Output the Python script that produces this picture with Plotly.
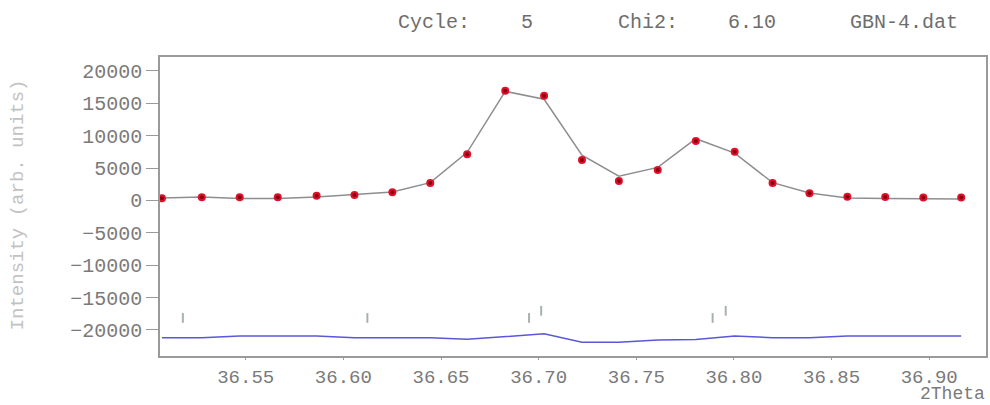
import plotly.graph_objects as go

# 2-theta positions of the measured points (deg)
two_theta = [36.5071, 36.5275, 36.5469, 36.5664, 36.5863, 36.6057, 36.6251,
             36.6445, 36.6634, 36.6829, 36.7028, 36.7222, 36.7411, 36.7610,
             36.7805, 36.8004, 36.8198, 36.8387, 36.8581, 36.8775, 36.8970,
             36.9164]
# observed intensities
y_obs = [340, 490, 490, 490, 740, 850, 1270, 2700, 7130, 16960, 16190, 6250,
         3010, 4710, 9190, 7540, 2700, 1110, 590, 540, 460, 460]
# difference curve (obs - calc), drawn shifted down by diff_offset
diff_offset = -21150
y_diff = [-21200, -21200, -20950, -20950, -20950, -21200, -21200, -21200,
          -21450, -21050, -20600, -21900, -21900, -21550, -21500, -20930,
          -21200, -21200, -20930, -20930, -20930, -20930]
# calculated profile follows from obs and difference
y_calc = [o - (d - diff_offset) for o, d in zip(y_obs, y_diff)]

# Bragg reflection markers: two rows of positions
bragg_row1 = [36.5178, 36.6123, 36.6951, 36.7891]
bragg_row1_span = [-17400, -18900]
bragg_row2 = [36.7013, 36.7958]
bragg_row2_span = [-16300, -17800]

y_ticks = [-20000, -15000, -10000, -5000, 0, 5000, 10000, 15000, 20000]
x_ticks = [36.55, 36.60, 36.65, 36.70, 36.75, 36.80, 36.85, 36.90]


def tick_segments(positions, span):
    xs, ys = [], []
    for p in positions:
        xs += [p, p, None]
        ys += [span[0], span[1], None]
    return xs, ys


fig = go.Figure()

# calculated profile
fig.add_trace(go.Scatter(x=two_theta, y=y_calc, mode="lines",
                         line=dict(color="#8e8e8e", width=1.5),
                         hoverinfo="skip"))
# observed points: red disc with a darker core
fig.add_trace(go.Scatter(x=two_theta, y=y_obs, mode="markers",
                         marker=dict(color="#e0102a", size=8, line=dict(width=0))))
fig.add_trace(go.Scatter(x=two_theta, y=y_obs, mode="markers",
                         marker=dict(color="#8a0010", size=4, line=dict(width=0)),
                         hoverinfo="skip"))
# difference curve
fig.add_trace(go.Scatter(x=two_theta, y=y_diff, mode="lines",
                         line=dict(color="#5a58d8", width=1.5)))
# Bragg positions
for pos, span in ((bragg_row1, bragg_row1_span), (bragg_row2, bragg_row2_span)):
    bx, by = tick_segments(pos, span)
    fig.add_trace(go.Scatter(x=bx, y=by, mode="lines",
                             line=dict(color="#a7b2ac", width=2),
                             hoverinfo="skip"))

mono = "Liberation Mono, Courier New, monospace"
axis_col = "#9a9a9a"

fig.update_layout(
    width=990, height=405,
    margin=dict(l=160, r=2, t=57, b=49),
    paper_bgcolor="white", plot_bgcolor="white",
    showlegend=False,
    font=dict(family=mono, color="#7a7a7a", size=20),
)
fig.update_xaxes(
    range=[36.5061, 36.9291], tickvals=x_ticks,
    ticktext=[f"{v:.2f}" for v in x_ticks],
    showgrid=False, zeroline=False,
    showline=True, linecolor=axis_col, linewidth=1.5, mirror=True,
    ticks="outside", ticklen=2, tickcolor=axis_col,
    tickfont=dict(family=mono, size=19, color="#7a7a7a"),
)
fig.update_yaxes(
    range=[-24030, 22160], tickvals=y_ticks, tickformat="d",
    showgrid=False, zeroline=False,
    showline=True, linecolor=axis_col, linewidth=1.5, mirror=True,
    ticks="outside", ticklen=12, tickcolor=axis_col,
    tickfont=dict(family=mono, size=20, color="#7a7a7a"),
)

# header line
header = [("Cycle:", 397), ("5", 520), ("Chi2:", 617), ("6.10", 727),
          ("GBN-4.dat", 850)]
for text, px in header:
    fig.add_annotation(text=text, xref="paper", yref="paper",
                       x=(px - 160) / 828, y=(356 - 22) / 299,
                       xanchor="left", yanchor="middle", showarrow=False,
                       font=dict(family=mono, size=20, color="#6e6e6e"))

# axis titles
fig.add_annotation(text="Intensity (arb. units)", xref="paper", yref="paper",
                   x=(18 - 160) / 828, y=(356 - 205) / 299, textangle=-90,
                   xanchor="center", yanchor="middle", showarrow=False,
                   font=dict(family=mono, size=19, color="#c2c2c2"))
fig.add_annotation(text="2Theta", xref="paper", yref="paper",
                   x=1.0, y=(356 - 405) / 299,
                   xanchor="right", yanchor="bottom", showarrow=False,
                   borderpad=0,
                   font=dict(family=mono, size=18, color="#7a7a7a"))

fig.write_html("out.html")
